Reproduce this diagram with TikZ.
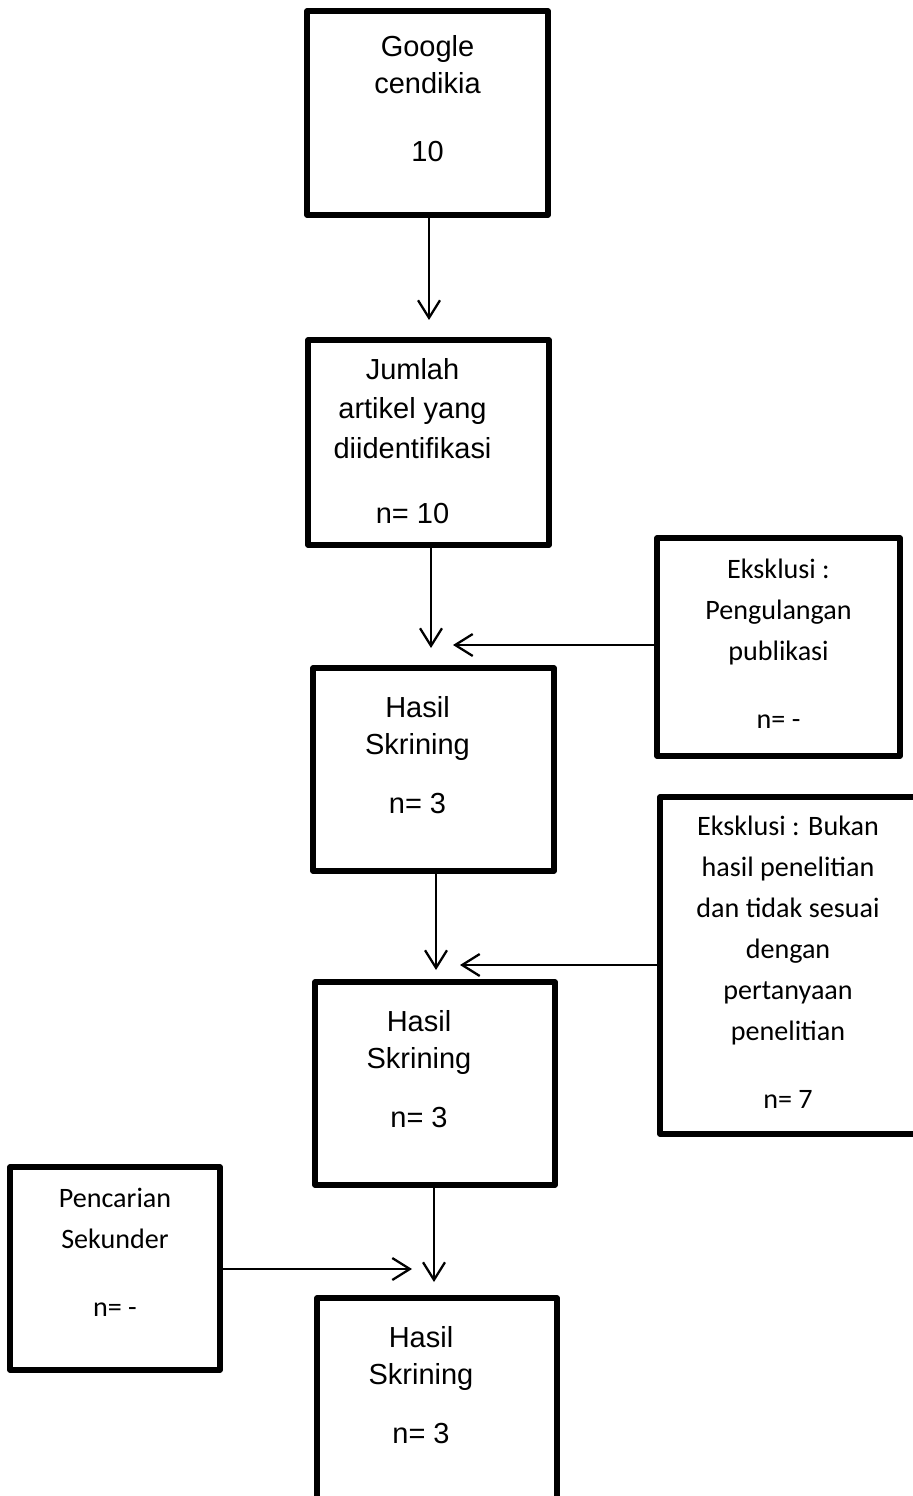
\documentclass[tikz,border=0pt]{standalone}
\usepackage{fontspec}
\setmainfont{Liberation Sans}
\newfontfamily\calibri{Carlito}
\usetikzlibrary{arrows.meta}

\tikzset{
    flowbox/.style={draw, line width=3pt, line join=round, inner sep=0pt, font=\fontsize{16.5}{21}\selectfont},
    sidebox/.style={flowbox, font=\calibri\fontsize{16}{23.3}\selectfont},
    flowarrow/.style={line width=1.3pt, -{Straight Barb[length=10pt,width=12.5pt,line width=1.3pt]}}
}
% box text: width, height, gap above, lines
\newcommand{\boxlines}[4]{\parbox[c][#2][t]{#1}{\centering\vspace*{#3}#4}}
\newcommand{\leftlines}[4]{\parbox[c][#2][t]{#1}{\centering\rightskip=0.64cm plus 1fil\relax\vspace*{#3}#4}}

\begin{document}
\begin{tikzpicture}[x=0.02cm, y=-0.02cm]
    \useasboundingbox (0,0) rectangle (912,1496);

    % main column
    \node[flowbox] (goog) at (427.5,113) {\boxlines{4.82cm}{4.08cm}{11.3pt}{\strut Google\\cendikia\\[17.7pt]10}};
    \node[flowbox] (jumlah) at (428.5,442.5) {\leftlines{4.82cm}{4.1cm}{7.5pt}{\strut Jumlah\\[1.5pt]artikel yang\\[1.5pt]diidentifikasi\\[16pt]n= 10}};
    \node[flowbox] (hasila) at (433.5,769.5) {\leftlines{4.82cm}{4.06cm}{13.7pt}{\strut Hasil\\Skrining\\[12.5pt]n= 3}};
    \node[flowbox] (hasilb) at (435,1083.5) {\leftlines{4.8cm}{4.06cm}{13.7pt}{\strut Hasil\\Skrining\\[12.5pt]n= 3}};
    \node[flowbox] (hasilc) at (437,1400) {\leftlines{4.8cm}{4.08cm}{13.7pt}{\strut Hasil\\Skrining\\[12.5pt]n= 3}};

    % side boxes
    \node[sidebox] (ulang) at (778.5,647) {\boxlines{4.86cm}{4.36cm}{7pt}{\strut Eksklusi :\\Pengulangan\\publikasi\\[15.4pt]n= -}};
    \node[sidebox] (bukan) at (788,965.5) {\boxlines{5.12cm}{6.74cm}{5.5pt}{\strut Eksklusi : Bukan\\hasil penelitian\\dan tidak sesuai\\dengan\\pertanyaan\\penelitian\\[15.4pt]n= 7}};
    \node[sidebox] (sekunder) at (115,1268.5) {\boxlines{4.2cm}{4.06cm}{7pt}{\strut Pencarian\\Sekunder\\[15.4pt]n= -}};

    % arrow tips
    \coordinate (t1) at (429,320);
    \coordinate (t2) at (431,648);
    \coordinate (t3) at (453,645);
    \coordinate (t4) at (436,970);
    \coordinate (t5) at (460,965);
    \coordinate (t6) at (434,1282);
    \coordinate (t7) at (412,1269);

    \draw[flowarrow] (t1 |- goog.south) -- (t1);
    \draw[flowarrow] (t2 |- jumlah.south) -- (t2);
    \draw[flowarrow] (ulang.west |- t3) -- (t3);
    \draw[flowarrow] (t4 |- hasila.south) -- (t4);
    \draw[flowarrow] (bukan.west |- t5) -- (t5);
    \draw[flowarrow] (t6 |- hasilb.south) -- (t6);
    \draw[flowarrow] (sekunder.east |- t7) -- (t7);
\end{tikzpicture}
\end{document}
